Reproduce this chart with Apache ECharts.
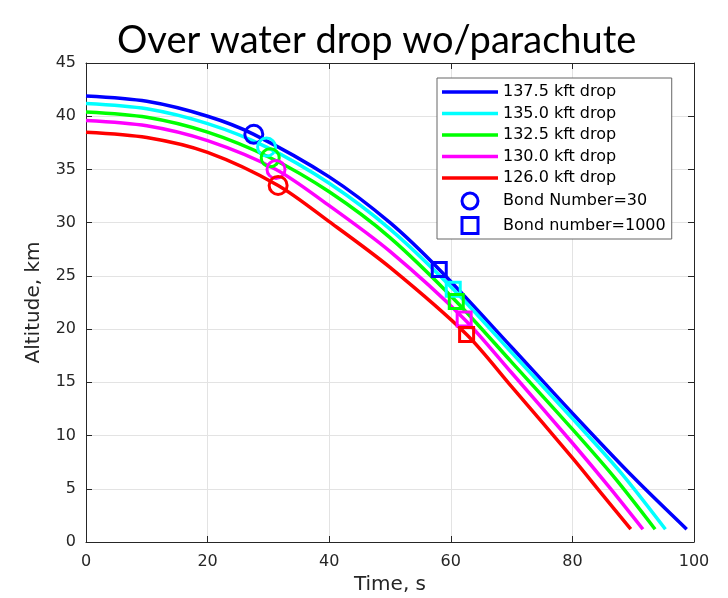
<!DOCTYPE html>
<html>
<head>
<meta charset="utf-8">
<script src="https://cdn.jsdelivr.net/npm/echarts@6/dist/echarts.min.js"></script>
<style>
html,body{margin:0;padding:0;background:#ffffff}
#Chart{width:728px;height:598px}
</style>
</head>
<body>
<div id="Chart"></div>
<script>
var dropNames=['137.5 kft drop','135.0 kft drop','132.5 kft drop','130.0 kft drop','126.0 kft drop']
var markNames=['Bond Number=30','Bond number=1000']
var lineColors=['#0000ff','#00ffff','#00ff00','#ff00ff','#ff0000']

// time (s) / altitude (km)
var time1375=[0,10,20,27.6,40,50,58.1,70,80,90,98.8]
var alt1375=[41.9,41.4,40.0,38.3,34.3,30.0,25.6,18.3,12.1,6.1,1.2]
var time1350=[0,10,20,29.7,40,50,60.4,70,80,88,95.3]
var alt1350=[41.2,40.7,39.3,37.1,33.7,29.4,23.75,17.8,11.6,6.5,1.2]
var time1325=[0,10,20,30.3,40,50,60.9,70,80,87,93.6]
var alt1325=[40.4,39.9,38.5,36.1,32.9,28.6,22.6,16.9,10.6,6.0,1.2]
var time1300=[0,10,20,31.25,40,50,62.2,70,80,86,91.6]
var alt1300=[39.6,39.1,37.7,35.0,31.6,27.3,20.96,15.9,9.3,5.2,1.2]
var time1260=[0,10,20,31.6,40,50,62.6,70,80,85,89.6]
var alt1260=[38.5,38.0,36.6,33.5,30.1,25.8,19.5,14.6,7.9,4.4,1.2]

// marker points
var bond30Time=[27.6,29.7,30.3,31.25,31.6]
var bond30Alt=[38.3,37.1,36.1,35.0,33.5]
var bond1000Time=[58.1,60.4,60.9,62.2,62.6]
var bond1000Alt=[25.6,23.75,22.6,20.96,19.5]

var curveTimes=[time1375,time1350,time1325,time1300,time1260]
var curveAlts=[alt1375,alt1350,alt1325,alt1300,alt1260]

function pairs(xs,ys){
	var out=[]
	for(var i=0;i<xs.length;i++) out.push([xs[i],ys[i]])
	return out
}

function markData(xs,ys){
	var out=[]
	for(var i=0;i<xs.length;i++){
		out.push({value:[xs[i],ys[i]],itemStyle:{borderColor:lineColors[i]}})
	}
	return out
}

var series=[],legendData=[]
for(var i=0;i<dropNames.length;i++){
	series.push({
		name:dropNames[i],
		type:'line',
		data:pairs(curveTimes[i],curveAlts[i]),
		showSymbol:false,
		symbol:'none',
		smooth:0.3,
		lineStyle:{color:lineColors[i],width:3.5},
		itemStyle:{color:lineColors[i]},
		z:2
	})
	// plain line icon in legend
	legendData.push({name:dropNames[i],icon:'path://M0,0H56V3.5H0Z',itemStyle:{color:lineColors[i],borderWidth:0}})
}
series.push({
	name:markNames[0],
	type:'scatter',
	symbol:'circle',
	symbolSize:18,
	data:markData(bond30Time,bond30Alt),
	itemStyle:{color:'rgba(0,0,0,0)',borderColor:'#0000ff',borderWidth:3,opacity:1},
	z:3
})
series.push({
	name:markNames[1],
	type:'scatter',
	symbol:'rect',
	symbolSize:14,
	data:markData(bond1000Time,bond1000Alt),
	itemStyle:{color:'rgba(0,0,0,0)',borderColor:'#0000ff',borderWidth:3,opacity:1},
	z:3
})
legendData.push({name:markNames[0],icon:'circle',itemStyle:{color:'rgba(0,0,0,0)',borderColor:'#0000ff',borderWidth:3}})
legendData.push({name:markNames[1],icon:'path://M0,0H10V10H0Z',itemStyle:{color:'rgba(0,0,0,0)',borderColor:'#0000ff',borderWidth:3}})

var axisColor='#262626'
var fontName='DejaVu Sans'

var myChart=echarts.init(document.getElementById('Chart'))
var option={
	animation:false,
	backgroundColor:'#ffffff',
	title:{
		text:'Over water drop wo/parachute',
		left:112,
		top:17,
		textStyle:{fontFamily:'Lato',fontSize:38,fontWeight:'normal',color:'#000000'}
	},
	grid:{left:86,top:63,right:34,bottom:56,containLabel:false,outerBoundsMode:'none'},
	legend:{
		orient:'vertical',
		left:437,
		top:78,
		data:legendData,
		itemWidth:56,
		itemHeight:16,
		itemGap:5.5,
		padding:[6,6,4,5],
		backgroundColor:'#ffffff',
		borderColor:'#666666',
		borderWidth:1,
		borderRadius:0,
		textStyle:{fontFamily:fontName,fontSize:16,color:'#000000'},
		z:10
	},
	xAxis:[{
		type:'value',
		min:0,max:100,interval:20,
		name:'Time, s',
		nameLocation:'middle',
		nameGap:33,
		nameTextStyle:{fontFamily:fontName,fontSize:20,color:axisColor},
		axisLine:{show:true,onZero:false,lineStyle:{color:axisColor,width:1}},
		axisTick:{show:true,inside:true,length:6,lineStyle:{color:axisColor}},
		axisLabel:{fontFamily:fontName,fontSize:16,color:axisColor,margin:12},
		splitLine:{show:true,lineStyle:{color:'#e3e3e3',width:1}}
	},{
		type:'value',
		position:'top',
		min:0,max:100,interval:20,
		axisLine:{show:true,onZero:false,lineStyle:{color:axisColor,width:1}},
		axisTick:{show:true,inside:true,length:6,lineStyle:{color:axisColor}},
		axisLabel:{show:false},
		splitLine:{show:false}
	}],
	yAxis:[{
		type:'value',
		min:0,max:45,interval:5,
		name:'Altitude, km',
		nameLocation:'middle',
		nameGap:42,
		nameRotate:90,
		nameTextStyle:{fontFamily:fontName,fontSize:20,color:axisColor},
		axisLine:{show:true,onZero:false,lineStyle:{color:axisColor,width:1}},
		axisTick:{show:true,inside:true,length:6,lineStyle:{color:axisColor}},
		axisLabel:{fontFamily:fontName,fontSize:16,color:axisColor,margin:10},
		splitLine:{show:true,lineStyle:{color:'#e3e3e3',width:1}}
	},{
		type:'value',
		position:'right',
		min:0,max:45,interval:5,
		axisLine:{show:true,onZero:false,lineStyle:{color:axisColor,width:1}},
		axisTick:{show:true,inside:true,length:6,lineStyle:{color:axisColor}},
		axisLabel:{show:false},
		splitLine:{show:false}
	}],
	series:series
}
myChart.setOption(option)
</script>
</body>
</html>
